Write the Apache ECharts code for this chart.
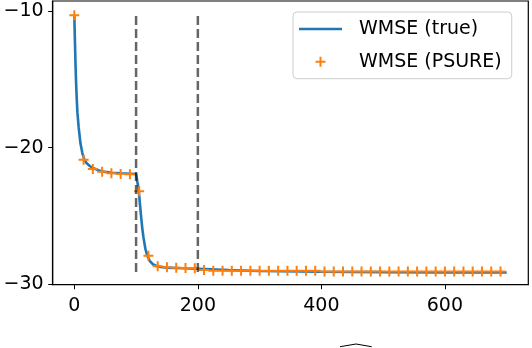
<!DOCTYPE html>
<html>
<head>
<meta charset="utf-8">
<script src="https://cdn.jsdelivr.net/npm/echarts@6/dist/echarts.min.js"></script>
<style>
  html, body { margin: 0; padding: 0; background: #fff; }
  #chart { width: 532px; height: 348px; }
</style>
</head>
<body>
<div id="chart"></div>
<script>
// WMSE (true) curve
const trueX = [0, 1, 2, 3, 4, 5, 7, 10, 13, 16, 20, 25, 30, 40, 50, 60, 75, 90, 100,
  101, 102, 104, 106, 108, 110, 112, 115, 118, 122, 127, 133, 140, 150, 175, 200,
  250, 300, 400, 500, 600, 700];
const trueY = [-10.3, -12.2, -14.0, -15.4, -16.5, -17.4, -18.5, -19.7, -20.4, -20.85, -21.15, -21.35, -21.5, -21.68, -21.78, -21.84, -21.88, -21.91, -21.93,
  -22.2, -22.5, -23.0, -24.0, -25.0, -25.9, -26.6, -27.4, -27.9, -28.3, -28.55, -28.68, -28.75, -28.8, -28.84, -28.88,
  -28.98, -29.05, -29.1, -29.13, -29.15, -29.16];

// WMSE (PSURE) markers
const psureX = [0, 15, 30, 45, 60, 75, 90, 105, 120, 135, 150, 165, 180, 195,
  210, 225, 240, 255, 270, 285, 300, 315, 330, 345, 360, 375, 390,
  405, 420, 435, 450, 465, 480, 495, 510, 525, 540, 555, 570, 585, 600, 615, 630, 645, 660, 675, 690];
const psureY = [-10.3, -20.88, -21.56, -21.76, -21.88, -21.93, -21.95, -23.2, -27.93, -28.7, -28.77, -28.8, -28.82, -28.85,
  -28.97, -29.03, -29.03, -29.03, -29.03, -29.03, -29.03, -29.03, -29.03, -29.03, -29.03, -29.03, -29.03,
  -29.08, -29.08, -29.08, -29.08, -29.08, -29.08, -29.08, -29.08, -29.08, -29.08, -29.08, -29.08, -29.08, -29.08, -29.08, -29.08, -29.08, -29.08, -29.08, -29.08];

// dashed markers
const splitX = [100, 200];
const splitTop = -10.35;
const splitBottom = -29.15;

const xTicks = [0, 200, 400, 600];
const yTicks = [-30, -20, -10];

const font = 'DejaVu Sans';
const minus = (v) => String(v).replace('-', '\u2212');
const crossIcon = 'path://M0,4h10v2h-10z M4,0h2v10h-2z';

let chart = echarts.init(document.getElementById('chart'));

let series = [
  {
    name: 'WMSE (true)',
    type: 'line',
    data: trueX.map((x, i) => [x, trueY[i]]),
    showSymbol: false,
    lineStyle: {color: '#1f77b4', width: 2.6},
    itemStyle: {color: '#1f77b4'},
    z: 2
  },
  {
    name: 'WMSE (PSURE)',
    type: 'scatter',
    data: psureX.map((x, i) => [x, psureY[i]]),
    symbol: crossIcon,
    symbolSize: 10,
    itemStyle: {color: '#ff7f0e', opacity: 1},
    z: 3
  }
];
splitX.forEach((x, i) => {
  series.push({
    name: 'split' + i,
    type: 'line',
    data: [[x, splitTop], [x, splitBottom]],
    showSymbol: false,
    lineStyle: {color: 'rgba(0,0,0,0.6)', width: 2.5, type: [9, 4]},
    z: 4
  });
});

const axisLine = {show: true, onZero: false, lineStyle: {color: '#000', width: 1.2}};
const axisTick = (values) => ({show: true, inside: false, length: 4.5, lineStyle: {color: '#000', width: 1}, customValues: values});

chart.setOption({
  animation: false,
  grid: {
    left: 52.7, right: 3.7, top: 1, bottom: 63.3,
    show: true, borderColor: '#000', borderWidth: 1.2
  },
  legend: {
    orient: 'vertical',
    left: 293, top: 12,
    padding: [7, 10, 7, 6],
    itemGap: 12.7,
    itemWidth: 43, itemHeight: 10,
    borderColor: '#cccccc', borderWidth: 1, borderRadius: 4,
    backgroundColor: 'rgba(255,255,255,0.8)',
    textStyle: {fontFamily: font, fontSize: 19, color: '#000', lineHeight: 20, padding: [0, 0, 0, 12]},
    data: [
      {name: 'WMSE (true)', icon: 'path://M0,0H43V2.6H0Z'},
      {name: 'WMSE (PSURE)', icon: crossIcon}
    ]
  },
  xAxis: {
    type: 'value', min: -35, max: 735,
    splitLine: {show: false},
    axisLine: axisLine,
    axisTick: axisTick(xTicks),
    axisLabel: {
      customValues: xTicks, margin: 12,
      fontFamily: font, fontSize: 19, color: '#000',
      formatter: minus
    }
  },
  yAxis: {
    type: 'value', min: -30.05, max: -9.25,
    splitLine: {show: false},
    axisLine: axisLine,
    axisTick: axisTick(yTicks),
    axisLabel: {
      customValues: yTicks, margin: 9,
      fontFamily: font, fontSize: 19, color: '#000',
      formatter: minus
    }
  },
  graphic: [{
    type: 'polyline',
    shape: {points: [[340, 346.7], [356, 344], [371.7, 346.7]]},
    style: {stroke: '#000', lineWidth: 1, fill: null}
  }],
  series: series
});
</script>
</body>
</html>
